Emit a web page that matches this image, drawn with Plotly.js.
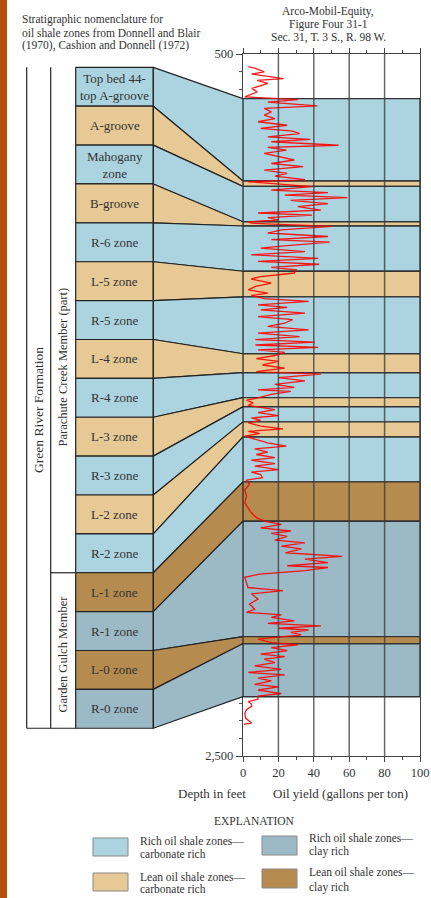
<!DOCTYPE html>
<html><head><meta charset="utf-8">
<script src="https://cdn.plot.ly/plotly-3.0.1.min.js"></script>
<style>html,body{margin:0;padding:0;background:#fff;}#chart{width:431px;height:898px;}</style>
</head><body><div id="chart"></div>
<script>
// ---------------- DATA ----------------
const zoneNames = ["Top bed 44-<br>top A-groove","A-groove","Mahogany<br>zone","B-groove","R-6 zone","L-5 zone","R-5 zone","L-4 zone","R-4 zone","L-3 zone","R-3 zone","L-2 zone","R-2 zone","L-1 zone","R-1 zone","L-0 zone","R-0 zone"];
const zoneTypes = ["richCarb","leanCarb","richCarb","leanCarb","richCarb","leanCarb","richCarb","leanCarb","richCarb","leanCarb","richCarb","leanCarb","richCarb","leanClay","richClay","leanClay","richClay"];
const zoneTopDepth    = [627,862,877,978,990,1119,1192,1354,1408,1479,1505,1548,1591,1719,1831,2160,2180];
const zoneBottomDepth = [862,877,978,990,1119,1192,1354,1408,1479,1505,1548,1591,1719,1831,2160,2180,2331];

const logDepth = [536,541,551,557,570,575,584,591,598,608,617,622,
630,637,648,655,665,674,684,693,703,712,720,727,736,743,750,760,766,774,783,793,802,812,821,831,840,848,858,864,871,878,888,895,902,909,917,926,935,945,953,959,966,973,978,
982,991,1001,1010,1020,1029,1036,1046,1053,1063,1072,1082,1091,1099,1108,1115,1124,1134,1141,1153,1162,1172,1181,1188,1197,1205,1215,1222,1229,1238,1248,1257,1267,1276,1286,1295,1305,1314,1321,1329,1336,1343,1350,1359,1368,1376,1386,1395,1405,1412,1422,1431,1441,1450,1457,
1461,1470,1480,1486,1494,1501,1513,1522,1530,1537,1543,1551,1560,1568,1575,1581,1589,1598,1608,1617,1625,1634,1641,1650,1657,1667,1674,1684,1691,1698,1707,1714,1726,1741,1760,1779,1793,1807,1821,1831,1840,1850,1859,1866,1874,1885,1893,1902,1910,1921,1931,
1939,1949,1958,1963,1972,1982,1991,2006,2020,2029,2038,2053,2067,2082,2091,2098,2105,2115,2122,2129,2136,2141,2148,2155,2167,2177,2183,2191,2200,2210,2217,2224,2234,2243,2253,2262,2269,2278,2286,2296,2303,2312,2322,2329,
2338,2345,2352,2358,2368,2378,2392,2406,2410];
const logYield = [3,7,12,5,23,8,14,10,5,8,4,1,
31,14,42,12,16,12,18,8.5,25,10,28,32,14,38,16,54,14,24.5,12,21.7,29,16,34,12,25,18,35,3,20,39,16,48,23.6,59,27,48,31,44,8.5,39,14,20,3,
4.7,50,21.7,14,48,16,49,25,10,35,4.7,42.5,8.5,43,16,30,29,10,4.7,16,7,3,14,4.7,12,37,8.5,25,10,35,8.5,28,23.6,14,37,8.5,32,7,40.6,7,42.5,8.5,23.6,18,7.5,20,11,23.6,7.5,44,20,35,18,29,8.5,
27,16,8.5,2,5.7,3,18,8.5,20,4.7,10,3,10,22.6,3,9.4,1,6.6,14,24.5,6.6,14,7.5,18,4.7,18,6.6,20,4.7,10,11,2,3.7,1,2,1,2.8,4.7,7.5,12,21.7,10,27,16,25,18,35,21.7,33,24,56,
35,48,25,48,35,9.4,1,2,2.8,22.6,4.7,8.5,3.7,6.6,2,21.7,16,29,14,44,20,37,27,33,8.5,16,31,16,25,10,23.6,12,18,6.6,21.7,3,23.6,8.5,16,6.6,20,8.5,21.7,8.5,
8.5,3,4.7,5,2,1,1.5,4.7,0.5];

const depthTicks = [500,1000,1500,2000,2500];
const depthTickText = ["500","1,000","1,500","2,000","2,500"];
const yieldTicks = [0,20,40,60,80,100];

const legendItems = [
  {type:"richCarb", l1:"Rich oil shale zones\u2014", l2:"carbonate rich"},
  {type:"leanCarb", l1:"Lean oil shale zones\u2014", l2:"carbonate rich"},
  {type:"richClay", l1:"Rich oil shale zones\u2014", l2:"clay rich"},
  {type:"leanClay", l1:"Lean oil shale zones\u2014", l2:"clay rich"}
];

// ---------------- STYLE / LAYOUT ----------------
const colors = {richCarb:"#abd4e0", leanCarb:"#e6c995", richClay:"#9bbac6", leanClay:"#b58b4f"};
const serif = "Liberation Serif, Times New Roman, serif";
const txt = "#333";
const W = 431, H = 898, mL = 0, mR = 11, mT = 54, mB = 142;
const plotW = W - mL - mR, plotH = H - mT - mB;
const axisPx = 243;
const px = v => v / plotW;
const py = v => (H - mB - v) / plotH;

// schematic column geometry (x2 units = pixels)
const grL = 26.7, memL = 50.7, boxL = 75.7, boxR = 153.3;
const colTop = 538, colBottom = 2421;
const boxStep = (colBottom - colTop) / zoneNames.length;

const traces = [];
const annotations = [];
zoneNames.forEach((name, i) => {
  const bt = colTop + i * boxStep, bb = colTop + (i + 1) * boxStep;
  const dt = zoneTopDepth[i], db = zoneBottomDepth[i];
  const c = colors[zoneTypes[i]];
  traces.push({
    x: [boxL, boxR, boxR, boxL, boxL, null, boxR, axisPx, axisPx, boxR, boxR],
    y: [bt, bt, bb, bb, bt, null, bt, dt, db, bb, bt],
    xaxis: "x2", yaxis: "y", mode: "lines", fill: "toself", fillcolor: c,
    line: {color: "#222", width: 1.2}, hoverinfo: "skip", showlegend: false
  });
  traces.push({
    x: [0, 100, 100, 0, 0], y: [dt, dt, db, db, dt],
    xaxis: "x", yaxis: "y", mode: "lines", fill: "toself", fillcolor: c,
    line: {color: "#333", width: 1.4}, hoverinfo: "skip", showlegend: false
  });
  annotations.push({xref: "x2", yref: "y", x: (boxL + boxR) / 2, y: (bt + bb) / 2,
    text: name, showarrow: false, font: {family: serif, size: 13, color: txt}});
});

traces.push({
  x: logYield, y: logDepth, xaxis: "x", yaxis: "y", mode: "lines",
  line: {color: "rgba(255,0,0,0.9)", width: 1.3}, hoverinfo: "skip", showlegend: false
});

const shapes = [];
shapes.push({type: "rect", xref: "paper", yref: "paper", x0: px(0), x1: px(7), y0: py(H), y1: py(0),
  fillcolor: "#b5500c", line: {width: 0}, layer: "below"});
yieldTicks.slice(1, -1).forEach(v => shapes.push({type: "line", xref: "x", yref: "paper", x0: v, x1: v, y0: 0, y1: 1,
  line: {color: "rgba(55,55,55,0.75)", width: 1.5}, layer: "above"}));
const lineStyle = {color: "#222", width: 1.2};
shapes.push({type: "line", xref: "x2", yref: "y", x0: grL, x1: grL, y0: colTop, y1: colBottom, line: lineStyle});
shapes.push({type: "line", xref: "x2", yref: "y", x0: memL, x1: memL, y0: colTop, y1: colBottom, line: lineStyle});
shapes.push({type: "line", xref: "x2", yref: "y", x0: grL, x1: boxL, y0: colBottom, y1: colBottom, line: lineStyle});
const memberSplit = colTop + 13 * boxStep;
shapes.push({type: "line", xref: "x2", yref: "y", x0: memL, x1: boxL, y0: memberSplit, y1: memberSplit, line: lineStyle});

annotations.push({xref: "x2", yref: "y", x: 38.7, y: 1515, text: "Green River Formation", textangle: -90,
  showarrow: false, font: {family: serif, size: 13.5, color: txt}});
annotations.push({xref: "x2", yref: "y", x: 63, y: 1393, text: "Parachute Creek Member (part)", textangle: -90,
  showarrow: false, font: {family: serif, size: 12.5, color: txt}});
annotations.push({xref: "x2", yref: "y", x: 63, y: 2211, text: "Garden Gulch Member", textangle: -90,
  showarrow: false, font: {family: serif, size: 12.5, color: txt}});

const leftHead = ["Stratigraphic nomenclature for", "oil shale zones from Donnell and Blair", "(1970), Cashion and Donnell (1972)"];
const leftHeadY = [19, 32.5, 46];
leftHead.forEach((t, i) => annotations.push({xref: "paper", yref: "paper", x: px(20), y: py(leftHeadY[i]),
  xanchor: "left", yanchor: "middle", text: t, showarrow: false, font: {family: serif, size: 11.5, color: txt}}));
const rightHead = ["Arco-Mobil-Equity,", "Figure Four 31-1", "Sec. 31, T. 3 S., R. 98 W."];
const rightHeadY = [12, 24.5, 37];
rightHead.forEach((t, i) => annotations.push({xref: "paper", yref: "paper", x: px(328), y: py(rightHeadY[i]),
  xanchor: "center", yanchor: "middle", text: t, showarrow: false, font: {family: serif, size: 11.5, color: txt}}));

annotations.push({xref: "paper", yref: "paper", x: px(211.5), y: py(793), text: "Depth in feet", showarrow: false,
  xanchor: "center", yanchor: "middle", font: {family: serif, size: 13, color: txt}});
annotations.push({xref: "paper", yref: "paper", x: px(340), y: py(793), text: "Oil yield (gallons per ton)", showarrow: false,
  xanchor: "center", yanchor: "middle", font: {family: serif, size: 13, color: txt}});
annotations.push({xref: "paper", yref: "paper", x: px(255), y: py(821), text: "EXPLANATION", showarrow: false,
  xanchor: "center", yanchor: "middle", font: {family: serif, size: 11.5, color: txt}});

const legPos = [
  {bx: 93, by0: 838, by1: 856, tx: 138, t1: 841, t2: 854},
  {bx: 93, by0: 873, by1: 891, tx: 138, t1: 877, t2: 889},
  {bx: 262, by0: 836, by1: 855, tx: 307, t1: 838, t2: 851},
  {bx: 262, by0: 869, by1: 888, tx: 307, t1: 872, t2: 887}
];
legendItems.forEach((it, i) => {
  const p = legPos[i];
  shapes.push({type: "rect", xref: "paper", yref: "paper", x0: px(p.bx), x1: px(p.bx + 35), y0: py(p.by1), y1: py(p.by0),
    fillcolor: colors[it.type], line: {color: "#888", width: 1}});
  annotations.push({xref: "paper", yref: "paper", x: px(p.tx), y: py(p.t1), xanchor: "left", yanchor: "middle",
    text: it.l1, showarrow: false, font: {family: serif, size: 11.5, color: txt}});
  annotations.push({xref: "paper", yref: "paper", x: px(p.tx), y: py(p.t2), xanchor: "left", yanchor: "middle",
    text: it.l2, showarrow: false, font: {family: serif, size: 11.5, color: txt}});
});

const layout = {
  width: W, height: H,
  margin: {l: mL, r: mR, t: mT, b: mB, pad: 0},
  paper_bgcolor: "#fff", plot_bgcolor: "rgba(0,0,0,0)",
  showlegend: false,
  xaxis: {
    domain: [axisPx / plotW, 1], range: [0, 100], anchor: "y",
    tickmode: "array", tickvals: yieldTicks, ticks: "outside", ticklen: 5, tickcolor: "#444", tickwidth: 1,
    minor: {tickmode: "linear", tick0: 0, dtick: 10, ticks: "outside", ticklen: 3, tickcolor: "#444"},
    showline: true, linecolor: "#444", linewidth: 1.2, mirror: "ticks",
    showgrid: false, zeroline: false, fixedrange: true,
    tickfont: {family: serif, size: 12.5, color: txt}
  },
  xaxis2: {domain: [0, axisPx / plotW], range: [0, axisPx], anchor: "y", visible: false, fixedrange: true},
  yaxis: {
    domain: [0, 1], range: [2500, 500], anchor: "x",
    tickmode: "array", tickvals: depthTicks, ticktext: depthTickText,
    ticks: "outside", ticklen: 6, tickcolor: "#444",
    minor: {tickmode: "linear", tick0: 500, dtick: 50, ticks: "outside", ticklen: 3, tickcolor: "#555"},
    showline: true, linecolor: "#444", linewidth: 1.2, mirror: true,
    showgrid: false, zeroline: false, fixedrange: true,
    tickfont: {family: serif, size: 12.5, color: txt}
  },
  shapes: shapes,
  annotations: annotations
};

Plotly.newPlot("chart", traces, layout, {displayModeBar: false, staticPlot: true});
</script></body></html>
